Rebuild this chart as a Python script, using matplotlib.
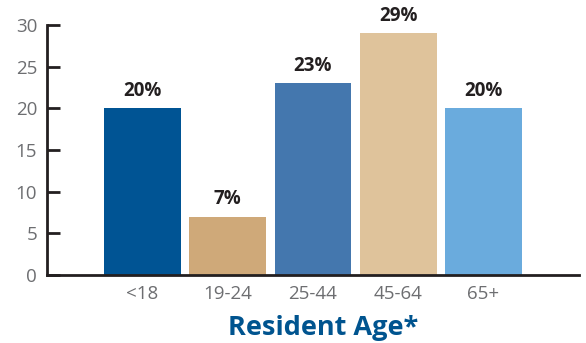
import matplotlib
matplotlib.use("Agg")
import matplotlib.pyplot as plt
import numpy as np

plt.rcParams['font.family'] = ['Open Sans', 'DejaVu Sans']

age_groups = ['<18', '19-24', '25-44', '45-64', '65+']
percent = [20, 7, 23, 29, 20]
bar_colors = ['#005494', '#cfa979', '#4477ae', '#dfc39b', '#6aabdd']

fig = plt.figure(figsize=(5.86, 3.43), dpi=100)
ax = fig.add_axes([0.080, 0.198, 0.908, 0.729])

x = np.arange(len(age_groups))
bars = ax.bar(x, percent, width=0.9, color=bar_colors)

# value labels above each bar
for xi, v in zip(x, percent):
    ax.text(xi, v + 0.9, f'{v}%', ha='center', va='bottom',
            fontsize=13.5, fontweight='bold', color='#231f20')

ax.set_xlim(-1.12, 5.12)
ax.set_ylim(0, 30)
ax.set_yticks(range(0, 31, 5))
ax.set_xticks(x)
ax.set_xticklabels(age_groups)

for side in ['top', 'right']:
    ax.spines[side].set_visible(False)
for side in ['left', 'bottom']:
    ax.spines[side].set_linewidth(2)
    ax.spines[side].set_color('#231f20')

ax.tick_params(axis='y', direction='in', length=9.5, width=2, color='#231f20',
               labelsize=13.5, labelcolor='#6d6e71', pad=7)
ax.tick_params(axis='x', length=0, labelsize=13.5, labelcolor='#6d6e71', pad=7)

fig.text(0.551, 0.022, 'Resident Age*', ha='center', va='baseline',
         fontsize=19.5, fontweight='bold', color='#00548f')

fig.savefig('out.png', dpi=100)
